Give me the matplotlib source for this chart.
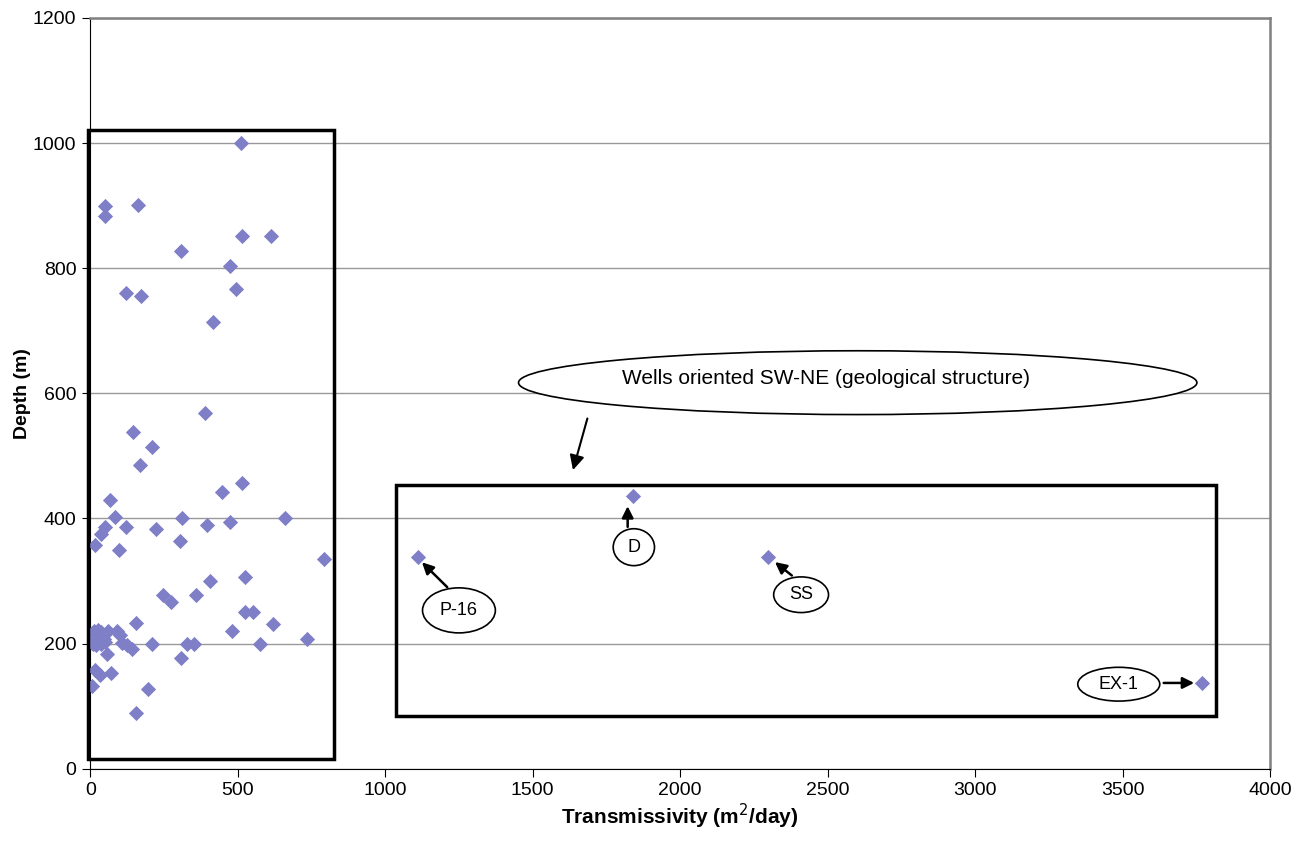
import matplotlib.pyplot as plt
from matplotlib.patches import Ellipse, Rectangle

plt.rcParams['font.family'] = ['Liberation Sans', 'DejaVu Sans']

# Transmissivity (m2/day) and depth (m) of the wells
transmissivity = [510, 51, 49, 163, 514, 612, 307, 475, 120, 173, 494, 415,
                  390, 146, 210, 170, 445, 514, 66, 85, 310, 661, 49, 121,
                  222, 395, 475, 35, 17, 97, 303, 791, 526, 406, 359, 248,
                  274, 525, 553, 618, 154, 482, 734, 210, 328, 352, 575, 308,
                  195, 154, 61, 92, 101, 106, 123, 140, 58, 16, 33, 70, 5,
                  12, 25, 35, 15, 30, 45, 10, 20, 38, 50,
                  1110, 1839, 2299, 3769]
depth = [1000, 900, 884, 901, 852, 852, 827, 804, 761, 756, 767, 714,
         568, 538, 514, 485, 443, 457, 429, 402, 401, 401, 386, 386,
         383, 389, 394, 375, 357, 350, 364, 335, 306, 300, 277, 277,
         266, 250, 250, 231, 233, 220, 208, 200, 200, 200, 200, 177,
         128, 89, 220, 220, 214, 201, 198, 191, 184, 158, 149, 153, 132,
         220, 222, 218, 210, 205, 208, 200, 198, 200, 203,
         339, 436, 339, 137]

# labelled wells: name, label centre, label size
well_names = ['P-16', 'D', 'SS', 'EX-1']
label_x = [1250, 1843, 2410, 3487]
label_y = [253, 354, 278, 135]
label_w = [247, 140, 186, 278]
label_h = [72, 59, 57, 54]
arrow_from = [(1217, 287), (1822, 382), (2386, 306), (3630, 137)]
arrow_to = [(1118, 333), (1822, 424), (2314, 333), (3752, 137)]

fig = plt.figure(figsize=(13.08, 8.55), dpi=100)
ax = fig.add_axes([0.069, 0.101, 0.902, 0.878])

ax.scatter(transmissivity, depth, marker='D', s=60, color='#7F7FC8',
           zorder=3, linewidths=0)

ax.set_xlim(0, 4000)
ax.set_ylim(0, 1200)
ax.set_xticks(range(0, 4001, 500))
ax.set_yticks(range(0, 1201, 200))
ax.grid(axis='y', color='#999999', linewidth=1)
ax.set_axisbelow(True)
for s in ['top', 'right']:
    ax.spines[s].set_color('#808080')
    ax.spines[s].set_linewidth(1.8)
ax.tick_params(labelsize=14, length=6, direction='out')
ax.tick_params(axis='y', pad=4)
ax.set_xlabel('Transmissivity (m$^2$/day)', fontsize=15, fontweight='bold', labelpad=2)
ax.set_ylabel('Depth (m)', fontsize=14, fontweight='bold', labelpad=1)

# boxes
ax.add_patch(Rectangle((-8, 15), 834, 1006, fill=False, lw=2.5,
                       edgecolor='black', clip_on=False, zorder=4))
ax.add_patch(Rectangle((1037, 84), 2779, 370, fill=False, lw=2.5,
                       edgecolor='black', zorder=4))

# big label
ax.add_patch(Ellipse((2602, 617), 2300, 102, facecolor='white',
                     edgecolor='black', lw=1.2, zorder=5))
ax.text(2496, 624, 'Wells oriented SW-NE (geological structure)',
        ha='center', va='center', fontsize=15, zorder=6)
ax.annotate('', xy=(1634, 473), xytext=(1688, 564),
            arrowprops=dict(arrowstyle='-|>', color='black', lw=1.5,
                            mutation_scale=22), zorder=6)

for i in range(len(well_names)):
    ax.add_patch(Ellipse((label_x[i], label_y[i]), label_w[i], label_h[i],
                         facecolor='white', edgecolor='black', lw=1.2, zorder=5))
    ax.text(label_x[i], label_y[i], well_names[i], ha='center', va='center',
            fontsize=13, zorder=6)
    ax.annotate('', xy=arrow_to[i], xytext=arrow_from[i],
                arrowprops=dict(arrowstyle='-|>', color='black', lw=1.8,
                                mutation_scale=17), zorder=6)

fig.savefig('out.png', dpi=100)
